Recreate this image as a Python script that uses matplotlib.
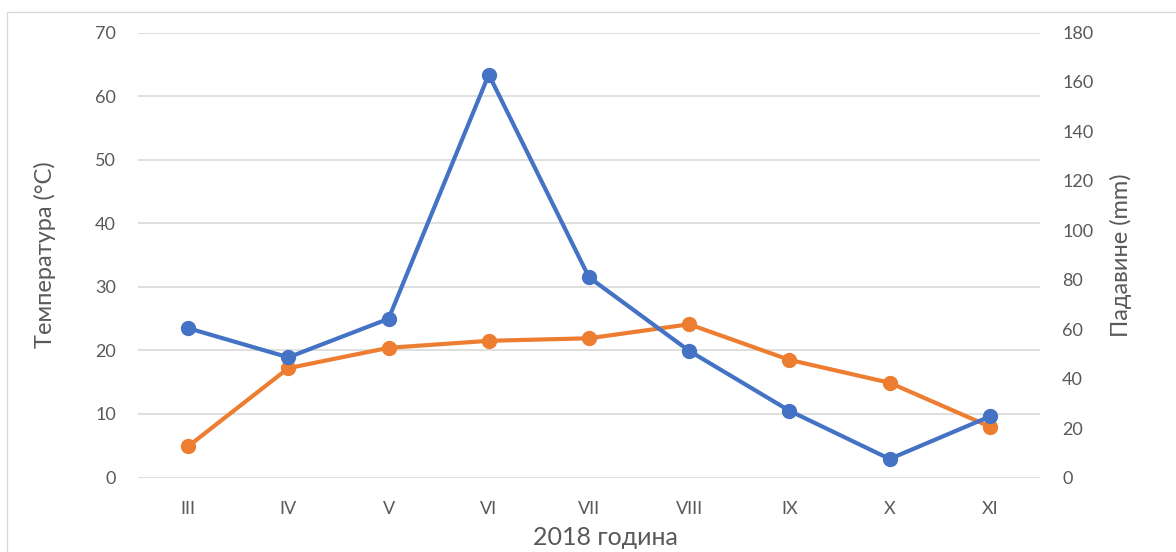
import matplotlib
matplotlib.use("Agg")
import matplotlib.pyplot as plt
from matplotlib.patches import Rectangle

plt.rcParams['font.family'] = ['Lato', 'DejaVu Sans']

months = ['III', 'IV', 'V', 'VI', 'VII', 'VIII', 'IX', 'X', 'XI']
temperature = [4.9, 17.2, 20.4, 21.5, 21.9, 24.1, 18.5, 14.9, 8.0]
precipitation = [60.4, 48.6, 64.2, 163.0, 81.0, 51.2, 27.0, 7.5, 24.7]

grey = '#595959'
blue = '#4472C4'
orange = '#ED7D31'

fig = plt.figure(figsize=(11.76, 5.52), dpi=100)
# light chart border
fig.patches.append(Rectangle((7/1176, -0.1), 1.2, 1 - 12/552 + 0.1,
                             transform=fig.transFigure, fill=False,
                             edgecolor='#D9D9D9', linewidth=1))

ax = fig.add_axes([138/1176, 1 - 477.5/552, (1040 - 138)/1176, 445/552])
x = list(range(len(months)))

ax.plot(x, temperature, color=orange, linewidth=3, marker='o', markersize=10,
        solid_capstyle='round', zorder=3)
ax.set_ylim(0, 70)
ax.set_yticks(range(0, 71, 10))
ax.set_xlim(-0.5, len(months) - 0.5)
ax.set_xticks(x)
ax.set_xticklabels(months)
ax.grid(axis='y', color='#D9D9D9', linewidth=1.2)
ax.set_axisbelow(True)
for s in ax.spines.values():
    s.set_visible(False)
ax.tick_params(length=0, colors=grey, labelsize=13)
ax.tick_params(axis='y', pad=16)
ax.tick_params(axis='x', pad=17)
ax.set_ylabel('Температура (°C)', color=grey, fontsize=17, labelpad=28)
ax.set_xlabel('2018 година', color=grey, fontsize=18)
ax.xaxis.set_label_coords(0.518, -0.108)

ax2 = ax.twinx()
ax2.plot(x, precipitation, color=blue, linewidth=3, marker='o', markersize=10,
         solid_capstyle='round', zorder=3)
ax2.set_ylim(0, 180)
ax2.set_yticks(range(0, 181, 20))
for s in ax2.spines.values():
    s.set_visible(False)
ax2.tick_params(length=0, colors=grey, labelsize=13, pad=16)
ax2.set_ylabel('Падавине (mm)', color=grey, fontsize=17, labelpad=12)

fig.savefig('out.png', dpi=100)
